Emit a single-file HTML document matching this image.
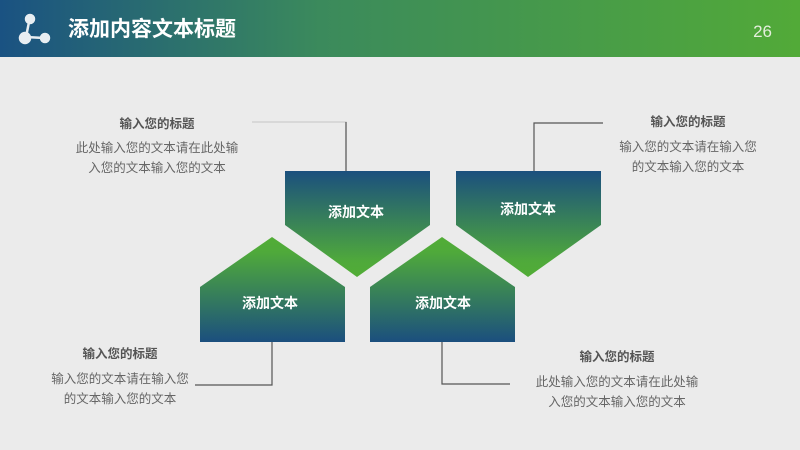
<!DOCTYPE html>
<html><head><meta charset="utf-8"><style>
html,body{margin:0;padding:0;width:800px;height:450px;overflow:hidden;background:#ebebeb}
svg{display:block}
text{font-family:"Liberation Sans","Noto Sans CJK SC",sans-serif}
</style></head><body>
<svg width="800" height="450" viewBox="0 0 800 450">
<defs>
<linearGradient id="hd" x1="0" y1="0" x2="1" y2="0">
<stop offset="0" stop-color="#1a5282"/><stop offset="0.4" stop-color="#3b8a5c"/><stop offset="1" stop-color="#52aa38"/>
</linearGradient>
<linearGradient id="dn" x1="0" y1="0" x2="0" y2="1">
<stop offset="0" stop-color="#1b4f7e"/><stop offset="0.85" stop-color="#4fa93b"/><stop offset="1" stop-color="#52ad36"/>
</linearGradient>
<linearGradient id="up" x1="0" y1="1" x2="0" y2="0">
<stop offset="0" stop-color="#1b4f7e"/><stop offset="0.85" stop-color="#4fa93b"/><stop offset="1" stop-color="#52ad36"/>
</linearGradient>
</defs>
<rect width="800" height="57" fill="url(#hd)"/>
<g fill="#e8eef2" stroke="#e8eef2" stroke-width="2.5">
<line x1="29" y1="22" x2="26" y2="37"/><line x1="26" y1="37" x2="44" y2="38"/>
<circle cx="30" cy="19" r="4"/><circle cx="25" cy="38" r="5"/><circle cx="45" cy="38" r="4"/>
</g>
<text x="68" y="36" font-size="21" font-weight="bold" fill="#fff">添加内容文本标题</text>
<text x="772" y="37" font-size="17" fill="#e4eedc" text-anchor="end">26</text>

<polygon points="285,171 430,171 430,225 357,277 285,225" fill="url(#dn)"/>
<polygon points="456,171 601,171 601,225 528,277 456,225" fill="url(#dn)"/>
<polygon points="272,237 345,287 345,342 200,342 200,287" fill="url(#up)"/>
<polygon points="442,237 515,287 515,342 370,342 370,287" fill="url(#up)"/>
<g font-size="14" font-weight="bold" fill="#fff" text-anchor="middle">
<text x="356" y="217">添加文本</text>
<text x="528" y="214">添加文本</text>
<text x="270" y="308">添加文本</text>
<text x="443" y="308">添加文本</text>
</g>
<g stroke="#555" stroke-width="1.2" fill="none">
<polyline points="252,122 346,122 346,171" stroke="#ccc"/>
<line x1="346" y1="122" x2="346" y2="171"/>
<polyline points="534,171 534,123 603,123"/>
<polyline points="272,342 272,385 195,385"/>
<polyline points="442,342 442,384 510,384" />
</g>
<g text-anchor="middle" fill="#666" font-size="12.5">
<text x="157" y="128" font-weight="bold" fill="#555">输入您的标题</text>
<text x="157" y="152">此处输入您的文本请在此处输</text>
<text x="157" y="172">入您的文本输入您的文本</text>
<text x="688" y="126" font-weight="bold" fill="#555">输入您的标题</text>
<text x="688" y="151">输入您的文本请在输入您</text>
<text x="688" y="171">的文本输入您的文本</text>
<text x="120" y="358" font-weight="bold" fill="#555">输入您的标题</text>
<text x="120" y="383">输入您的文本请在输入您</text>
<text x="120" y="403">的文本输入您的文本</text>
<text x="617" y="361" font-weight="bold" fill="#555">输入您的标题</text>
<text x="617" y="386">此处输入您的文本请在此处输</text>
<text x="617" y="406">入您的文本输入您的文本</text>
</g>
</svg>
</body></html>
